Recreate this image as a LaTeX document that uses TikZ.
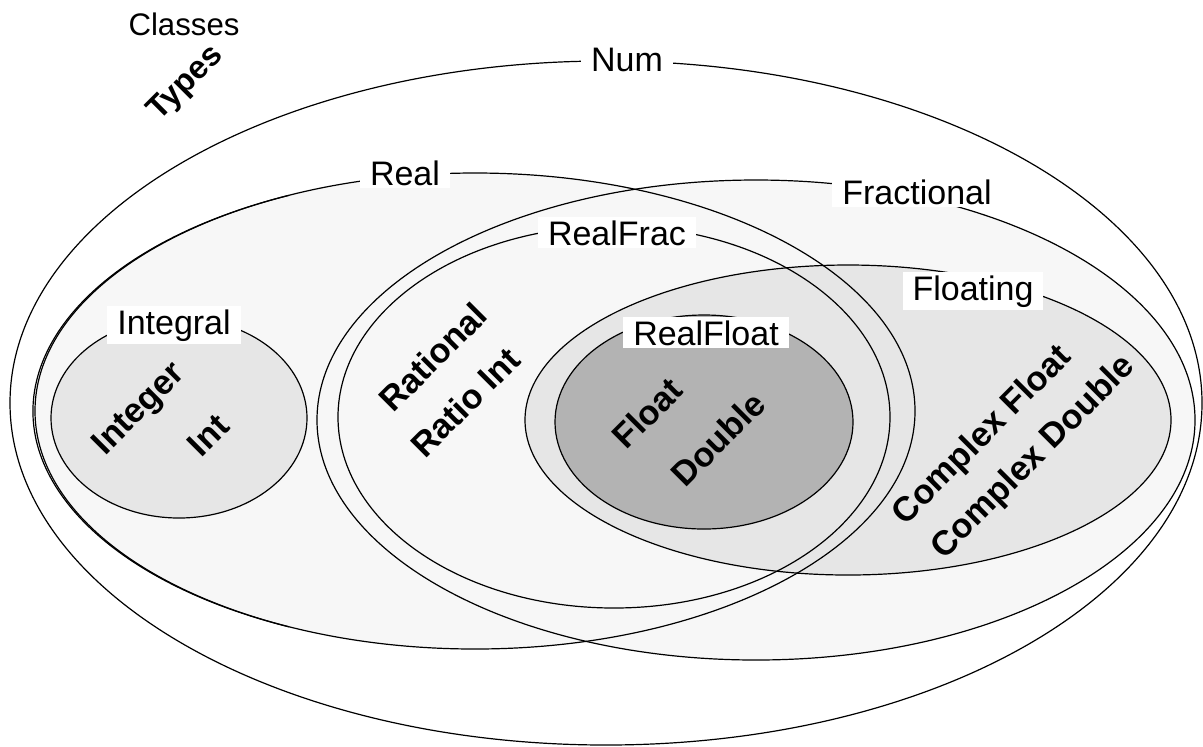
\documentclass[tikz,border=0pt]{standalone}
\usepackage{fontspec}
\setmainfont{Liberation Sans}
\definecolor{setlight}{HTML}{F7F7F7}
\definecolor{setmid}{HTML}{E6E6E6}
\definecolor{setdark}{HTML}{B3B3B3}
\tikzset{
	setline/.style={line width=0.6pt, color=black},
	classlabel/.style={fill=white, inner xsep=5pt, inner ysep=1.5pt, anchor=base, font=\fontsize{17}{20}\selectfont},
	typelabel/.style={rotate=45, inner sep=0pt, font=\bfseries\fontsize{17.2}{20}\selectfont},
}

\begin{document}
\begin{tikzpicture}[x=0.5pt, y=-0.5pt]
		%%%%% START %%%%%
		\useasboundingbox (0, 0) rectangle (1203, 746);
		
		% fills
		\fill[color=setlight] (475, 411) ellipse [x radius=440, y radius=238];
		\fill[color=setlight] (756, 420) ellipse [x radius=439, y radius=240];
		\fill[color=setmid] (179, 418) ellipse [x radius=128, y radius=100];
		\fill[color=setmid] (848, 420) ellipse [x radius=323, y radius=155];
		\fill[color=setdark] (704, 422) ellipse [x radius=149, y radius=107];
		
		% outlines
		\draw[setline] (606, 403) ellipse [x radius=596, y radius=342];
		\draw[setline] (475, 411) ellipse [x radius=440, y radius=238];
		\draw[setline] (288.8, 195.4) arc [start angle=245, end angle=115, x radius=443, y radius=238];
		\draw[setline] (756, 420) ellipse [x radius=439, y radius=240];
		\draw[setline] (614, 417) ellipse [x radius=276, y radius=191];
		\draw[setline] (179, 418) ellipse [x radius=128, y radius=100];
		\draw[setline] (848, 420) ellipse [x radius=323, y radius=155];
		\draw[setline] (704, 422) ellipse [x radius=149, y radius=107];
		
		% classes
		\node[anchor=base, font=\fontsize{15.6}{18}\selectfont] (classes) at (184, 35) {Classes};
		\node[classlabel] (num) at (627, 71) {Num};
		\node[classlabel] (real) at (405, 185) {Real};
		\node[classlabel] (fractional) at (917, 204) {Fractional};
		\node[classlabel] (realfrac) at (617, 245) {RealFrac};
		\node[classlabel] (floating) at (973, 300) {Floating};
		\node[classlabel] (integral) at (174, 334) {Integral};
		\node[classlabel] (realfloat) at (706, 345) {RealFloat};
		
		% types
		\node[typelabel, font=\bfseries\fontsize{16.2}{19}\selectfont] (types) at (186, 84) {Types};
		\node[typelabel] (integer) at (140, 410) {Integer};
		\node[typelabel] (int) at (208, 435) {Int};
		\node[typelabel] (rational) at (433, 357) {Rational};
		\node[typelabel] (ratioint) at (465, 402) {Ratio Int};
		\node[typelabel] (float) at (647, 413) {Float};
		\node[typelabel] (double) at (718, 439) {Double};
		\node[typelabel] (cfloat) at (983, 436) {Complex Float};
		\node[typelabel] (cdouble) at (1034, 458) {Complex Double};
		%%%%% END %%%%%
\end{tikzpicture}
\end{document}
